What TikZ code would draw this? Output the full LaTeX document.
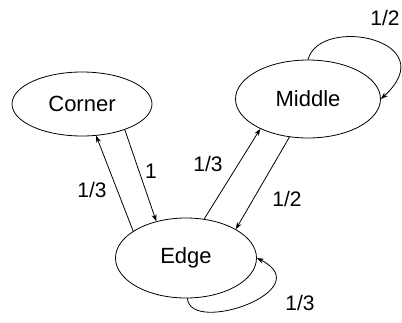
\documentclass[tikz,border=0pt]{standalone}
\usepackage{fontspec}
\setmainfont{Liberation Sans}
\usetikzlibrary{shapes.geometric,arrows.meta}
\begin{document}
\begin{tikzpicture}[x=1pt, y=-1pt, line width=0.8pt, line join=round, line cap=round,
		>={Stealth[length=7pt,width=5pt]},
		state/.style={draw, ellipse, inner sep=0pt, font=\fontsize{22}{26}\selectfont},
		prob/.style={inner sep=0pt, font=\fontsize{21}{25}\selectfont}]
				\useasboundingbox (0,0) rectangle (402,322);
				% states
				\node[state, minimum width=140pt, minimum height=64pt] (corner) at (82,104) {Corner};
				\node[state, minimum width=145pt, minimum height=78pt] (middle) at (308,99) {Middle};
				\node[state, minimum width=141pt, minimum height=80pt] (edge) at (186,258) {Edge};
				% transitions
				\draw[->] (corner.-31) -- (edge.129);
				\draw[->] (edge.153) -- (corner.-66);
				\draw[->] (edge.65) -- (middle.212);
				\draw[->] (middle.244.6) -- (edge.30);
				\draw[->] (middle.90) .. controls +(12,-45) and +(64.5,-59) .. (middle.0);
				\draw[->] (edge.-88) .. controls +(3,37) and +(63.5,32) .. (edge.0);
				% probabilities
				\node[prob] (pce) at (151,171) {1};
				\node[prob] (pec) at (92,190) {1/3};
				\node[prob] (pem) at (208,164) {1/3};
				\node[prob] (pme) at (287,199) {1/2};
				\node[prob] (pmm) at (385,18) {1/2};
				\node[prob] (pee) at (300,303) {1/3};
			\end{tikzpicture}
\end{document}
